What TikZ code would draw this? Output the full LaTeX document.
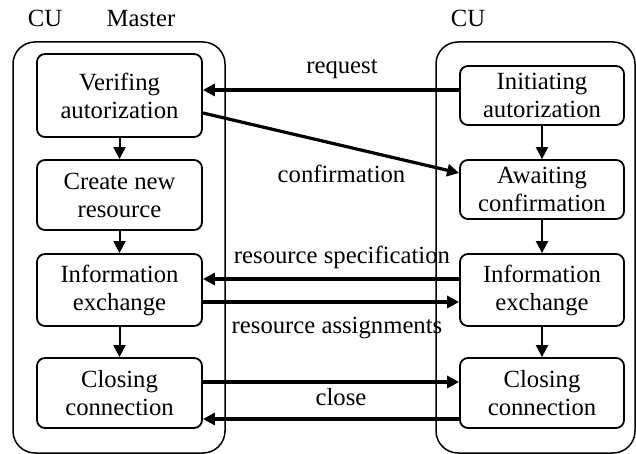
\documentclass[tikz,border=0pt]{standalone}
\usepackage{fontspec}
\setmainfont{Liberation Serif}
\usetikzlibrary{arrows.meta}
\begin{document}
\begin{tikzpicture}[x=1pt,y=-1pt,
  font=\fontsize{24.7}{28}\selectfont,
  box/.style={draw,line width=1.8pt,rounded corners=8pt,inner sep=0pt,align=center},
  lbox/.style={box,minimum width=165pt},
  rbox/.style={box,minimum width=164pt},
  cont/.style={draw,line width=1.5pt,rounded corners=22pt},
  flow/.style={line width=2pt,-{Triangle[length=12pt,width=12pt]}},
  msg/.style={line width=3.2pt,-{Triangle[length=12pt,width=12pt]}},
  lbl/.style={anchor=base,inner sep=0pt}]
\useasboundingbox (0,0) rectangle (636,454);
% containers
\draw[cont] (13,42) rectangle (225,453);
\draw[cont] (436,42) rectangle (635,453);
% headers
\node[lbl] (cu1) at (45,27) {CU};
\node[lbl] (master) at (141,27) {Master};
\node[lbl] (cu2) at (468,27) {CU};
% left boxes
\node[lbox,minimum height=83pt] (L1) at (119.5,95.5) {Verifing\\autorization};
\node[lbox,minimum height=70pt] (L2) at (119.5,195) {Create new\\resource};
\node[lbox,minimum height=72pt] (L3) at (119.5,290) {Information\\exchange};
\node[lbox,minimum height=70pt] (L4) at (119.5,393) {Closing\\connection};
% right boxes
\node[rbox,minimum height=59pt] (R1) at (542,95.5) {Initiating\\autorization};
\node[rbox,minimum height=59pt] (R2) at (542,189.5) {Awaiting\\confirmation};
\node[rbox,minimum height=72pt] (R3) at (542,290) {Information\\exchange};
\node[rbox,minimum height=70pt] (R4) at (542,393) {Closing\\connection};
% vertical flows
\draw[flow] (L1) -- (L2);
\draw[flow] (L2) -- (L3);
\draw[flow] (L3) -- (L4);
\draw[flow] (R1) -- (R2);
\draw[flow] (R2) -- (R3);
\draw[flow] (R3) -- (R4);
% messages
\draw[msg] ([yshift=5.5pt]R1.west) -- ([yshift=5.5pt]L1.east);
\draw[msg] ([yshift=-17.5pt]L1.east) -- ([yshift=16.5pt]R2.west);
\draw[msg] ([yshift=11pt]R3.west) -- ([yshift=11pt]L3.east);
\draw[msg] ([yshift=-12pt]L3.east) -- ([yshift=-12pt]R3.west);
\draw[msg] ([yshift=11pt]L4.east) -- ([yshift=11pt]R4.west);
\draw[msg] ([yshift=-26pt]R4.west) -- ([yshift=-26pt]L4.east);
% labels
\node[lbl] (lreq) at (342,74) {request};
\node[lbl] (lconf) at (341.5,183) {confirmation};
\node[lbl] (lspec) at (342,263) {resource specification};
\node[lbl] (lass) at (337,333) {resource assignments};
\node[lbl] (lclose) at (341,405) {close};
\end{tikzpicture}
\end{document}
